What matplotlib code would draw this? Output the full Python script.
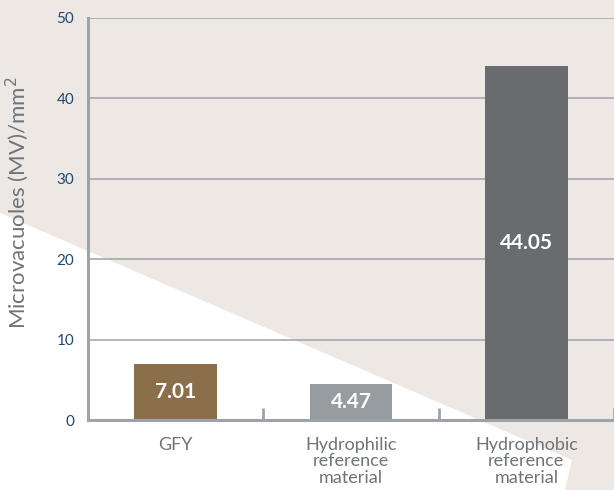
import matplotlib
matplotlib.use("Agg")
import matplotlib.pyplot as plt
from matplotlib.patches import Polygon

categories = ["GFY", "Hydrophilic\nreference\nmaterial", "Hydrophobic\nreference\nmaterial"]
values = [7.01, 4.47, 44.05]
value_labels = ["7.01", "4.47", "44.05"]
bar_colors = ["#8B6F4B", "#979CA1", "#6A6B6F"]
yticks = [0, 10, 20, 30, 40, 50]

plt.rcParams['font.family'] = ['Lato', 'DejaVu Sans']

W, H = 614, 490
fig = plt.figure(figsize=(W / 100, H / 100), dpi=100)
fig.patch.set_facecolor("white")

# beige background polygon (figure pixel coordinates)
pts = [(0, 0), (614, 0), (614, 490), (565, 490), (572, 460), (0, 213)]
poly = Polygon([(x / W, 1 - y / H) for x, y in pts], closed=True,
               transform=fig.transFigure, facecolor="#EDE8E4", edgecolor="none", zorder=-10)
fig.patches.append(poly)

ax = fig.add_axes([88 / W, 1 - 420 / H, 526 / W, 402 / H])
ax.set_facecolor("none")
ax.set_zorder(1)

x = list(range(len(categories)))
bars = ax.bar(x, values, width=0.47, color=bar_colors, zorder=3)
for xi, v, lab in zip(x, values, value_labels):
    ax.text(xi, v / 2, lab, ha="center", va="center", color="white",
            fontsize=15, fontweight="bold", zorder=4)

ax.set_xlim(-0.5, 2.5)
ax.set_ylim(0, 50)
ax.set_yticks(yticks)
ax.set_yticklabels([str(t) for t in yticks])
ax.tick_params(axis="y", length=0, pad=10, labelsize=11, labelcolor="#1D4A73")
ax.set_xticks(x)
ax.set_xticklabels(categories, linespacing=1.05)
ax.tick_params(axis="x", length=0, pad=12, labelsize=13, labelcolor="#6E747A")
ax.set_xticks([0.5, 1.5, 2.5], minor=True)
ax.tick_params(axis="x", which="minor", direction="in", length=9, width=2, color="#9DA3A8")

ax.yaxis.grid(True, color="#A3A9AE", linewidth=1.2, zorder=1)
ax.set_axisbelow(True)
for s in ["top", "right"]:
    ax.spines[s].set_visible(False)
for s in ["left", "bottom"]:
    ax.spines[s].set_color("#9DA3A8")
    ax.spines[s].set_linewidth(2.2)
    ax.spines[s].set_zorder(5)

fig.text(17 / W, 1 - 203 / H, "Microvacuoles (MV)/mm$^2$", rotation=90,
         ha="center", va="center", fontsize=16, color="#6E747A")

fig.savefig("out.png", dpi=100)
